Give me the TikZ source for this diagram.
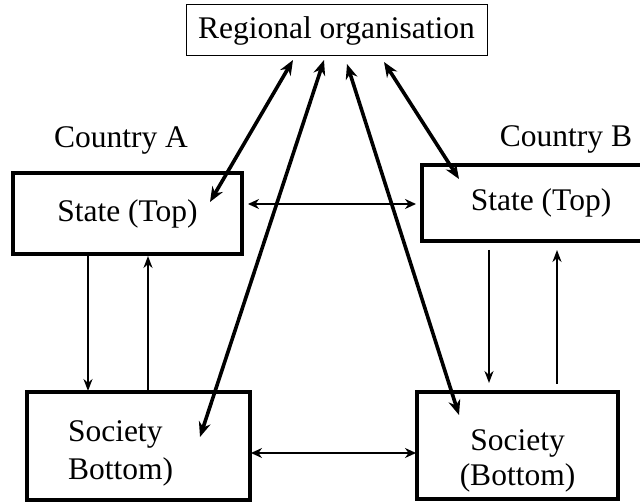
\documentclass[tikz,border=0pt]{standalone}
\usepackage{fontspec}
\setmainfont{Liberation Serif}
\usetikzlibrary{arrows.meta}

\begin{document}
\begin{tikzpicture}[x=1pt,y=-1pt,
    font=\fontsize{31.5}{38}\selectfont,
    box/.style={draw,line width=3.2pt,outer sep=0pt,inner sep=0pt},
    dlink/.style={line width=3.6pt,
      {Stealth[length=15pt,width=12pt]}-{Stealth[length=15pt,width=12pt]}},
    hlink/.style={line width=2.8pt,
      {Stealth[length=11pt,width=10pt]}-{Stealth[length=11pt,width=10pt]}},
    vlink/.style={line width=2.6pt,-{Stealth[length=12pt,width=9pt]}}]
  \useasboundingbox (0,0) rectangle (640,502);
  \clip (0,0) rectangle (640,502);

  \node[box,line width=1pt,minimum width=301pt,minimum height=51pt]
    (reg) at (336.5,30.5) {Regional organisation};
  \node[anchor=base] (ca) at (121,148) {Country A};
  \node[anchor=base] (cb) at (566,147) {Country B};
  \node[box,minimum width=229pt,minimum height=81pt]
    (sta) at (127.5,213.5) {State (Top)};
  \node[box,minimum width=238pt,minimum height=76pt]
    (stb) at (541,203) {State (Top)};
  \node[box,align=left,text width=141pt,inner xsep=41pt,minimum height=108pt]
    (soa) at (138.5,446) {\rule{0pt}{36pt}Society\\Bottom)};
  \node[box,align=center,minimum width=201pt,minimum height=107pt]
    (sob) at (517.5,445.5) {\rule{0pt}{51pt}Society\\[-3pt](Bottom)};

  % regional links
  \path (reg.south west) +(107,4) coordinate (rsta);
  \path (sta.north east) +(-32,29) coordinate (star);
  \draw[dlink] (rsta) -- (star);
  \path (reg.south west) +(138,4) coordinate (rsoa);
  \path (soa.north east) +(-50,45) coordinate (soar);
  \draw[dlink] (rsoa) -- (soar);
  \path (reg.south west) +(161,8) coordinate (rsob);
  \path (sob.north west) +(42,23) coordinate (sobr);
  \draw[dlink] (rsob) -- (sobr);
  \path (reg.south west) +(198,6) coordinate (rstb);
  \path (stb.north west) +(37,14) coordinate (stbr);
  \draw[dlink] (rstb) -- (stbr);

  % between countries
  \path (sta.north east) +(6,31) coordinate (stao);
  \path (stb.north west) +(-6,39) coordinate (stbo);
  \draw[hlink] (stao) -- (stbo);
  \path (soa.north east) +(1,61) coordinate (soao);
  \path (sob.north west) +(-1,61) coordinate (sobo);
  \draw[hlink] (soao) -- (sobo);

  % top and bottom
  \path (sta.south west) +(75,0) coordinate (stad);
  \path (soa.north west) +(61,-1) coordinate (soai);
  \draw[vlink] (stad) -- (soai);
  \path (soa.north west) +(121,0) coordinate (soau);
  \path (sta.south west) +(135,2) coordinate (stai);
  \draw[vlink] (soau) -- (stai);
  \path (stb.south west) +(67,9) coordinate (stbd);
  \path (sob.north west) +(72,-9) coordinate (sobi);
  \draw[vlink] (stbd) -- (sobi);
  \path (sob.north west) +(140,-8) coordinate (sobu);
  \path (stb.south west) +(135,9) coordinate (stbi);
  \draw[vlink] (sobu) -- (stbi);
\end{tikzpicture}
\end{document}
